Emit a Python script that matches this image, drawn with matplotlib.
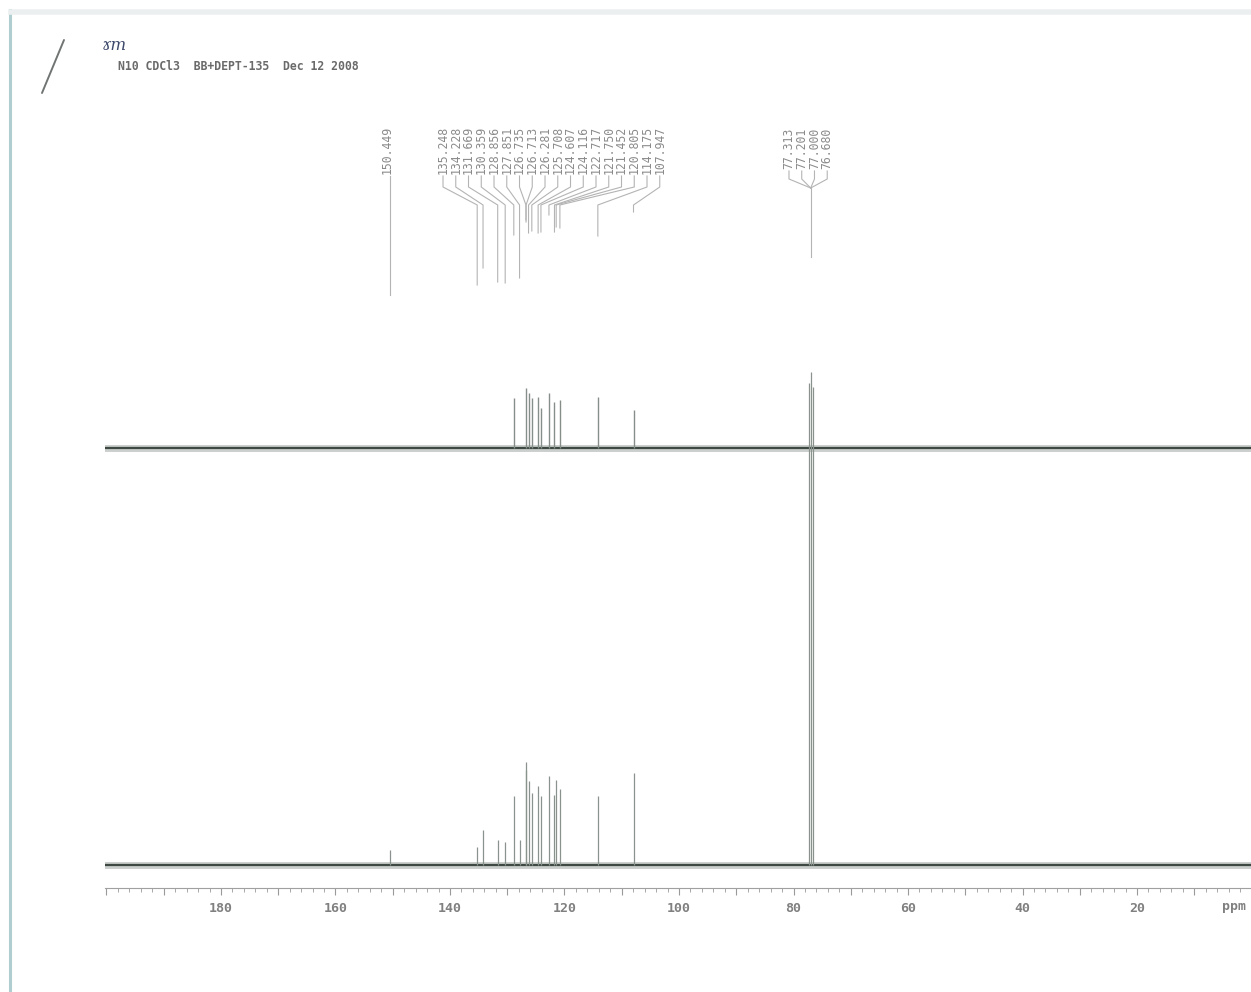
import matplotlib
matplotlib.use("Agg")
import matplotlib.pyplot as plt
from matplotlib.ticker import MultipleLocator, FuncFormatter

# 13C peak list (ppm) and intensities, broadband spectrum
bb_ppm = [150.449, 135.248, 134.228, 131.669, 130.359, 128.856, 127.851,
          126.735, 126.713, 126.281, 125.708, 124.607, 124.116, 122.717,
          121.750, 121.452, 120.805, 114.175, 107.947,
          77.313, 77.000, 76.680]
bb_int = [15, 18, 35, 25, 23, 69, 25,
          103, 95, 84, 72, 79, 69, 89,
          70, 85, 76, 69, 92,
          482, 493, 478]

# DEPT-135 (CH only)
dept_ppm = [128.856, 126.735, 126.281, 125.708, 124.607, 124.116,
            122.717, 121.750, 120.805, 114.175, 107.947]
dept_int = [50, 60, 55, 50, 51, 40, 55, 46, 48, 51, 38]

# labelled shifts
label_single = [150.449]
label_arom = [135.248, 134.228, 131.669, 130.359, 128.856, 127.851, 126.735,
              126.713, 126.281, 125.708, 124.607, 124.116, 122.717, 121.750,
              121.452, 120.805, 114.175, 107.947]
label_solv = [77.313, 77.201, 77.000, 76.680]

header = "N10 CDCl3  BB+DEPT-135  Dec 12 2008"

W, H = 1251, 992
fig = plt.figure(figsize=(W / 100, H / 100), dpi=100)
fig.patch.set_facecolor("white")

# page: scanner edges, handwriting, header
bg = fig.add_axes([0, 0, 1, 1])
bg.set_xlim(0, W)
bg.set_ylim(H, 0)
bg.axis("off")
bg.plot([10, 10], [10, H], color="#b0cdd0", lw=2.2)
bg.plot([11, W], [12, 12], color="#eceff0", lw=4)
bg.plot([64, 42], [40, 93], color="#707573", lw=1.4, solid_capstyle="round")
bg.text(102, 45, "ɤm", fontsize=12, style="italic", color="#3e4a6c",
        family="DejaVu Serif", va="center")
bg.text(118, 67, header, fontsize=8.3, family="DejaVu Sans Mono",
        color="#6a6a6a", va="center", weight="bold")

# spectrum axes: y in arbitrary intensity units above the ppm scale
ax = fig.add_axes([105 / W, 104 / H, 1146 / W, 788 / H])
ax.set_xlim(200.26, 0.09)
ax.set_ylim(0, 788)
ax.patch.set_alpha(0)
for s in ["top", "left", "right"]:
    ax.spines[s].set_visible(False)
ax.spines["bottom"].set_color("#a0a0a0")
ax.spines["bottom"].set_linewidth(0.8)
ax.set_yticks([])

ax.xaxis.set_major_locator(MultipleLocator(10))
ax.xaxis.set_minor_locator(MultipleLocator(2))
ax.xaxis.set_major_formatter(FuncFormatter(
    lambda v, p: f"{v:.0f}" if (round(v) % 20 == 0 and 0 < v < 199) else ""))
ax.tick_params(axis="x", which="major", direction="out", length=5, width=0.8,
               color="#9a9a9a", pad=5, labelsize=9.5, labelcolor="#808080")
ax.tick_params(axis="x", which="minor", direction="out", length=3, width=0.7,
               color="#a8a8a8")
for lab in ax.get_xticklabels():
    lab.set_family("DejaVu Sans Mono")
    lab.set_weight("bold")
ax.annotate("ppm", xy=(3.0, 0), xycoords=ax.get_xaxis_transform(),
            xytext=(0, -8.4), textcoords="offset points", ha="center",
            va="top", fontsize=9.5, color="#808080", family="DejaVu Sans Mono",
            weight="bold")

low_base, up_base = 23, 440
x_full = [200.26, 0.09]

# DEPT-135 trace on top
ax.plot(x_full, [up_base] * 2, color="#8c9590", lw=5, alpha=0.45)
ax.plot(x_full, [up_base] * 2, color="#3e4943", lw=1.6)
ax.vlines(dept_ppm, up_base, [up_base + h for h in dept_int],
          color="#868e89", lw=1.0)

# broadband trace below
ax.plot(x_full, [low_base] * 2, color="#8c9590", lw=5, alpha=0.45)
ax.plot(x_full, [low_base] * 2, color="#3e4943", lw=1.6)
ax.vlines(bb_ppm, low_base, [low_base + h for h in bb_int],
          color="#8a928d", lw=0.9)

# peak labels and connectors (y given as page rows, converted to axes units)
def row(y):
    return 888 - y

lab_kw = dict(rotation=90, ha="center", va="bottom", fontsize=8.3,
              family="DejaVu Sans Mono", color="#8a8a8a")
line_kw = dict(color="#b4b4b4", lw=0.8)

for p in label_single:
    ax.text(p + 0.5, row(174), f"{p:.3f}", **lab_kw)
    ax.plot([p, p], [row(176), row(295)], **line_kw)

arom_tail = [285, 268, 282, 283, 235, 278, 220, 222, 233, 231,
             233, 232, 215, 232, 227, 228, 236, 212]
x0, step = 141.22, 2.227
for i, p in enumerate(label_arom):
    xl = x0 - i * step
    ax.text(xl, row(174), f"{p:.3f}", **lab_kw)
    ax.plot([xl, xl, p, p], [row(176), row(187), row(205), row(arom_tail[i])],
            **line_kw)

x0s = 80.79
for i, p in enumerate(label_solv):
    xl = x0s - i * step
    ax.text(xl, row(169), f"{p:.3f}", **lab_kw)
    ax.plot([xl, xl, 77.0], [row(171), row(179), row(188)], **line_kw)
ax.plot([77.0, 77.0], [row(188), row(257)], **line_kw)

fig.savefig("out.png", dpi=100, facecolor="white")
